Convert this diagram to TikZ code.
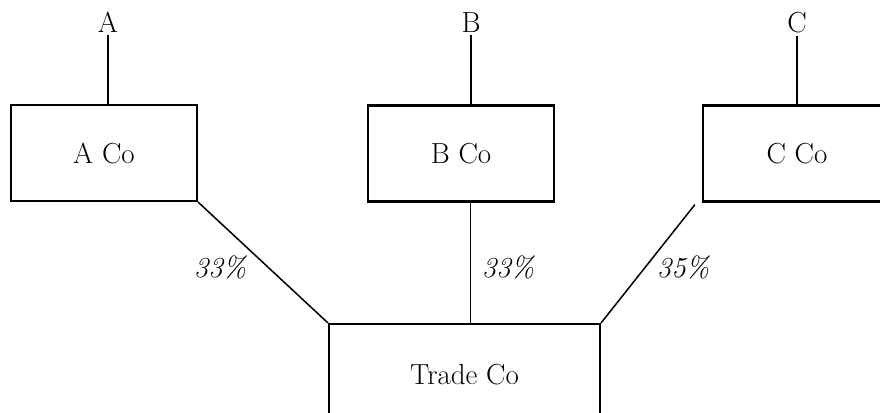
\documentclass[tikz,border=0pt]{standalone}
\usetikzlibrary{calc}
\begin{document}
\begin{tikzpicture}[x=1pt,y=-1pt,
  box/.style={draw,line width=2.2pt,minimum width=186pt,minimum height=96pt,inner sep=0pt,font=\fontsize{29}{33}\selectfont},
  lbl/.style={anchor=base,inner sep=2pt,font=\fontsize{29}{33}\selectfont},
  pct/.style={anchor=base,inner sep=0pt,font=\fontsize{29}{33}\selectfont\itshape},
  conn/.style={line width=1.5pt}]
\useasboundingbox (0,0) rectangle (880,412);
\clip (0,0) rectangle (880,412);
\node[box] (abox) at (104,153) {A Co};
\node[box] (bbox) at (461,153.5) {B Co};
\node[box,minimum width=188pt] (cbox) at (797,153.5) {C Co};
\node[box,minimum width=271pt,minimum height=102pt] (trade) at (464.5,375) {Trade Co};
\node[lbl] (la) at (108,33) {A};
\node[lbl] (lb) at (471,33) {B};
\node[lbl] (lc) at (797,33) {C};
\draw[conn] (la.south) -- (la.south |- abox.north);
\draw[conn] (lb.south) -- (lb.south |- bbox.north);
\draw[conn] (lc.south) -- (lc.south |- cbox.north);
\coordinate (bs) at ($(bbox.south)+(9.5,0)$);
\coordinate (cs) at ($(cbox.south west)+(-7,2)$);
\draw[conn] (abox.south east) -- (trade.north west);
\draw[conn] (bs) -- (bs |- trade.north);
\draw[conn] (cs) -- (trade.north east);
\node[pct] (p1) at (220,277) {33\%};
\node[pct] (p2) at (508,277) {33\%};
\node[pct] (p3) at (683,277) {35\%};
\end{tikzpicture}
\end{document}
